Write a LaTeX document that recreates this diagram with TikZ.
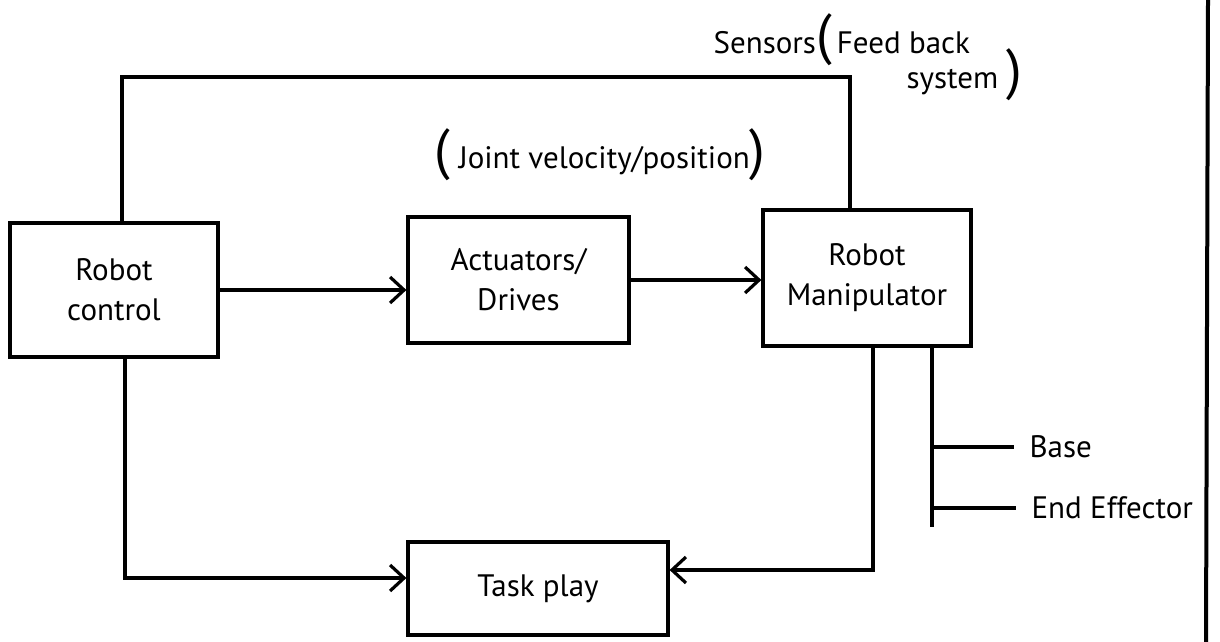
\documentclass[tikz,border=0pt]{standalone}
\usepackage{fontspec}
\setmainfont{PT Sans}
\usetikzlibrary{arrows.meta}
\newcommand{\bigparen}[1]{{\fontsize{28}{28}\selectfont#1}}
\begin{document}
\begin{tikzpicture}[x=0.5pt,y=-0.5pt,line width=1.6pt,
	box/.style={draw,align=center,font=\fontsize{15.5}{20}\selectfont},
	flow/.style={-{Straight Barb[length=7pt,width=13pt,line width=1.6pt]}},
	lbl/.style={font=\fontsize{15.5}{18}\selectfont,inner sep=0pt}]
	\useasboundingbox (0,0) rectangle (1220,642);
	
	\node[box,minimum width=104pt,minimum height=67pt] (ctrl) at (114,290) {Robot\\control};
	\node[box,minimum width=110.5pt,minimum height=63pt] (act) at (518.5,280) {Actuators/\\Drives};
	\node[box,minimum width=104pt,minimum height=68pt] (manip) at (867,278) {Robot\\Manipulator};
	\node[box,minimum width=130pt,minimum height=46.5pt] (task) at (538,588.5) {Task play};
	
	\node[lbl] (joint) at (600,155) {\bigparen{(}\;Joint velocity/position\bigparen{)}};
	\node[lbl,anchor=west] (sens) at (712,40) {Sensors\bigparen{(}\,Feed back};
	\node[lbl,anchor=west] (sys) at (905,75) {system\;\bigparen{)}};
	\node[lbl,anchor=west] (base) at (1028,447) {Base};
	\node[lbl,anchor=west] (eff) at (1030,508) {End Effector};
	
	\coordinate (fbL) at (122,77);
	\coordinate (fbR) at (850,77);
	\coordinate (tl) at (125,578);
	\coordinate (tr) at (873,570);
	\coordinate (bus) at (932,527);
	
	\draw (fbL |- ctrl.north) -- (fbL) -- (fbR) -- (fbR |- manip.north);
	\draw[flow] (ctrl.east) -- (ctrl.east -| act.west);
	\draw[flow] (act.east) -- (act.east -| manip.west);
	\draw[flow] (tl |- ctrl.south) -- (tl) -- (tl -| task.west);
	\draw[flow] (tr |- manip.south) -- (tr) -- (tr -| task.east);
	\draw (bus |- manip.south) -- (bus);
	\draw (bus |- base.west) -- ([xshift=-7pt]base.west);
	\draw (bus |- eff.west) -- ([xshift=-7pt]eff.west);
	\draw[line width=2pt] (1208,0) -- (1206,642);
\end{tikzpicture}
\end{document}
